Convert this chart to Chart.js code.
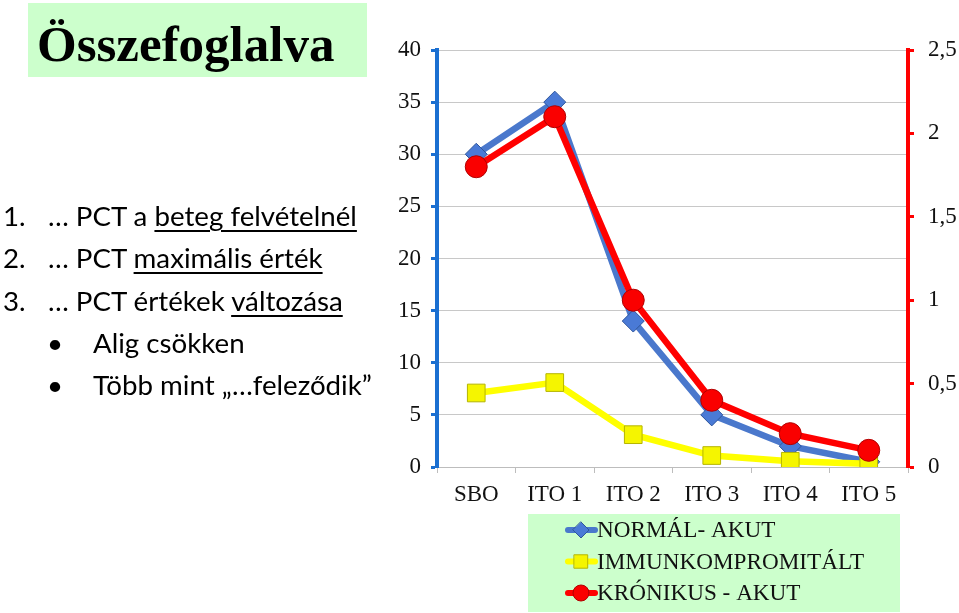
<!DOCTYPE html>
<html>
<head>
<meta charset="utf-8">
<script src="https://cdn.jsdelivr.net/npm/chart.js@4/dist/chart.umd.min.js"></script>
<style>
  html, body { margin:0; padding:0; background:#fff; }
  #wrap { position:relative; width:959px; height:613px; overflow:hidden; }
  #c { position:absolute; left:0; top:0; }
  .titlebox { position:absolute; left:28px; top:3px; width:339px; height:74px; background:#ccffcc; }
  .title { position:absolute; left:37px; top:19px; font-family:"Liberation Serif", serif; font-weight:bold; font-size:51px; line-height:51px; color:#000; white-space:nowrap; }
  .ln { position:absolute; font-family:"Lato", sans-serif; font-size:27.7px; line-height:27px; color:#000; white-space:nowrap; }
  .ln u { text-decoration-thickness:1.5px; text-underline-offset:4px; }
</style>
</head>
<body>
<div id="wrap">
  <canvas id="c" width="959" height="613"></canvas>
  <div class="titlebox"></div>
  <div class="title">Összefoglalva</div>
  <div class="ln" style="left:3px;top:202px;">1.</div>
  <div class="ln" style="left:48px;top:202px;">… PCT a <u>beteg felvételnél</u></div>
  <div class="ln" style="left:3px;top:244px;">2.</div>
  <div class="ln" style="left:48px;top:244px;">… PCT <u>maximális érték</u></div>
  <div class="ln" style="left:3px;top:287px;">3.</div>
  <div class="ln" style="left:48px;top:287px;">… PCT értékek <u>változása</u></div>
  <div class="ln" style="left:47px;top:329px;">•</div>
  <div class="ln" style="left:93px;top:329px;">Alig csökken</div>
  <div class="ln" style="left:47px;top:371px;">•</div>
  <div class="ln" style="left:93px;top:371px;">Több mint „…feleződik”</div>
</div>
<script>
// ---- data ----
const categories = ["SBO", "ITO 1", "ITO 2", "ITO 3", "ITO 4", "ITO 5"];
const seriesNames = ["NORMÁL- AKUT", "IMMUNKOMPROMITÁLT", "KRÓNIKUS - AKUT"];
const normalAkut = [30, 35, 14, 5, 2, 0.5];
const immunkompromitalt = [7.1, 8.1, 3.1, 1.1, 0.55, 0.3];
const kronikusAkut = [1.8, 2.1, 1.0, 0.4, 0.2, 0.1];
const leftTicks = [0, 5, 10, 15, 20, 25, 30, 35, 40];
const rightTicks = [0, 0.5, 1, 1.5, 2, 2.5];

const serif = "'Liberation Serif', 'Times New Roman', serif";

function drawMarker(ctx, style, r, x, y, fill, stroke) {
  ctx.save();
  ctx.fillStyle = fill; ctx.strokeStyle = stroke; ctx.lineWidth = 1;
  ctx.beginPath();
  if (style === 'rectRot') {
    ctx.moveTo(x, y - r); ctx.lineTo(x + r, y); ctx.lineTo(x, y + r); ctx.lineTo(x - r, y); ctx.closePath();
  } else if (style === 'rect') {
    const s = Math.SQRT1_2 * r; ctx.rect(x - s, y - s, 2 * s, 2 * s);
  } else {
    ctx.arc(x, y, r, 0, Math.PI * 2);
  }
  ctx.fill(); ctx.stroke();
  ctx.restore();
}

const boxLegend = {
  id: 'boxLegend',
  afterDraw(chart) {
    const ctx = chart.ctx;
    ctx.save();
    ctx.fillStyle = '#ccffcc';
    ctx.fillRect(528, 514, 372, 98);
    ctx.font = "23.2px " + serif;
    ctx.textBaseline = 'middle';
    chart.data.datasets.forEach((ds, i) => {
      const y = 530 + i * 31.5;
      ctx.strokeStyle = ds.borderColor; ctx.lineWidth = 6; ctx.lineCap = 'round';
      ctx.beginPath(); ctx.moveTo(568, y); ctx.lineTo(595, y); ctx.stroke();
      drawMarker(ctx, ds.pointStyle, ds.legendRadius, 581, y, ds.pointBackgroundColor, ds.pointBorderColor);
      ctx.fillStyle = '#111';
      ctx.fillText(ds.label, 597, y + 1);
    });
    ctx.restore();
  }
};

new Chart(document.getElementById('c'), {
  type: 'line',
  data: {
    labels: categories,
    datasets: [
      { label: seriesNames[0], data: normalAkut, yAxisID: 'yL', order: 2,
        borderColor: '#4a78cc', borderWidth: 6.5, pointStyle: 'rectRot', pointRadius: 11, legendRadius: 8,
        pointBackgroundColor: '#4a7ad6', pointBorderColor: '#2f569c', pointBorderWidth: 1, tension: 0 },
      { label: seriesNames[1], data: immunkompromitalt, yAxisID: 'yL', order: 1,
        borderColor: '#ffff00', borderWidth: 6.5, pointStyle: 'rect', pointRadius: 12.5, legendRadius: 9.5,
        pointBackgroundColor: '#f5f500', pointBorderColor: '#b5b500', pointBorderWidth: 1, tension: 0 },
      { label: seriesNames[2], data: kronikusAkut, yAxisID: 'yR', order: 0,
        borderColor: '#ff0000', borderWidth: 6.5, pointStyle: 'circle', pointRadius: 11, legendRadius: 8,
        pointBackgroundColor: '#fa0000', pointBorderColor: '#b00000', pointBorderWidth: 1, tension: 0 }
    ]
  },
  options: {
    responsive: false,
    animation: false,
    devicePixelRatio: 1,
    layout: { padding: { left: 380, right: 0, top: 50, bottom: 106 } },
    plugins: { legend: { display: false }, tooltip: { enabled: false }, title: { display: false } },
    scales: {
      x: {
        offset: true,
        grid: { offset: true, drawOnChartArea: false, drawTicks: true, tickLength: 6, tickColor: '#bdbdbd', tickWidth: 1 },
        border: { color: '#bdbdbd', width: 1 },
        ticks: { font: { family: serif, size: 23 }, color: '#111', padding: 8, maxRotation: 0 },
        afterFit: s => { s.height = 40; }
      },
      yL: {
        type: 'linear', position: 'left', min: 0, max: 40,
        afterBuildTicks: s => { s.ticks = leftTicks.map(v => ({ value: v })); },
        grid: { color: '#c8c8c8', lineWidth: 1, tickColor: '#1a6fd1', tickLength: 6, tickWidth: 3 },
        border: { color: '#1a6fd1', width: 4 },
        ticks: { font: { family: serif, size: 23 }, color: '#111', padding: 10 },
        afterFit: s => { s.width = 57; }
      },
      yR: {
        type: 'linear', position: 'right', min: 0, max: 2.5,
        afterBuildTicks: s => { s.ticks = rightTicks.map(v => ({ value: v })); },
        grid: { drawOnChartArea: false, tickColor: '#ff0000', tickLength: 6, tickWidth: 3 },
        border: { color: '#ff0000', width: 4 },
        ticks: { font: { family: serif, size: 23 }, color: '#111', padding: 14,
                 callback: v => String(v).replace('.', ',') },
        afterFit: s => { s.width = 51; }
      }
    }
  },
  plugins: [boxLegend]
});
</script>
</body>
</html>
